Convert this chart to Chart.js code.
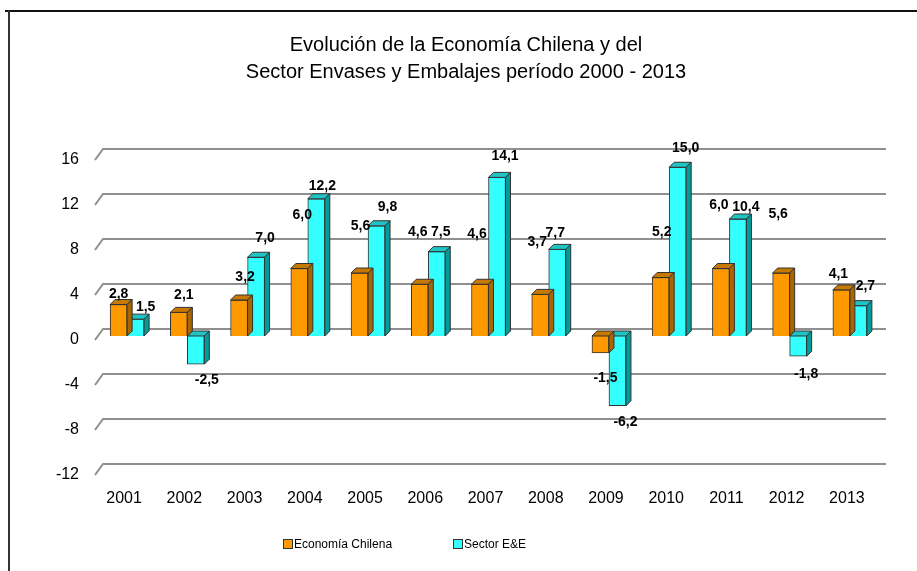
<!DOCTYPE html>
<html lang="es">
<head>
  <meta charset="UTF-8">
  <title>Evolución de la Economía Chilena y del Sector Envases y Embalajes</title>
  <script src="https://cdn.jsdelivr.net/npm/chart.js"></script>
  <style>
    html, body { margin: 0; padding: 0; background: #fff; }
    .wrap { position: relative; width: 917px; height: 571px; }
    .frame-top { position: absolute; left: 5px; top: 10px; width: 912px; height: 2px; background: #111; }
    .frame-left { position: absolute; left: 8px; top: 10px; width: 2px; height: 561px; background: #333; }
    .legend { position: absolute; top: 537px; font: 12px Arial, "Liberation Sans", sans-serif; color: #000; }
    .legend span.box { display: inline-block; width: 8px; height: 8px; border: 1px solid #333; vertical-align: -1px; margin-right: 1px; }
  </style>
</head>
<body>
  <div class="wrap">
    <canvas id="chart" width="917" height="571"></canvas>
    <div class="frame-top"></div>
    <div class="frame-left"></div>
    <div class="legend" style="left:283px"><span class="box" style="background:#FF9900"></span>Economía Chilena</div>
    <div class="legend" style="left:453px"><span class="box" style="background:#33FFFF"></span>Sector E&amp;E</div>
  </div>

  <script>
    const years = ['2001', '2002', '2003', '2004', '2005', '2006', '2007', '2008', '2009', '2010', '2011', '2012', '2013'];
    const economia = [2.8, 2.1, 3.2, 6.0, 5.6, 4.6, 4.6, 3.7, -1.5, 5.2, 6.0, 5.6, 4.1];
    const sectorEE = [1.5, -2.5, 7.0, 12.2, 9.8, 7.5, 14.1, 7.7, -6.2, 15.0, 10.4, -1.8, 2.7];
    const yTicks = [16, 12, 8, 4, 0, -4, -8, -12];

    const FONT = 'Arial, "Liberation Sans", sans-serif';
    const DEPTH = 5;
    const faces = [
      { top: '#C77800', side: '#A86500' },
      { top: '#1FC4C4', side: '#009C9C' }
    ];
    // where the data labels sit in the original, in px from the bar end
    const labelShift = [
      { dx: [0, 5, 6, 3, 1, -2, -3, -3, 5, 1, -2, -3, -3],
        dy: [10, 17, 23, 53, 47, 52, 50, 52, 25, 45, 63, 59, 16] },
      { dx: [10, 11, 9, 6, 11, 4, 8, -2, 8, 8, 8, 8, 7],
        dy: [12, 16, 19, 13, 19, 19, 21, 16, 16, 19, 12, 18, 19] }
    ];

    // back wall gridlines, drawn behind the bars
    const wallGrid = {
      id: 'wallGrid',
      beforeDatasetsDraw(chart) {
        const ctx = chart.ctx;
        const y = chart.scales.y;
        const area = chart.chartArea;
        ctx.save();
        ctx.strokeStyle = '#8f8f8f';
        ctx.lineWidth = 2;
        yTicks.forEach(function (v) {
          const py = y.getPixelForValue(v);
          ctx.beginPath();
          ctx.moveTo(area.left - 2, py + 4);
          ctx.lineTo(area.left + 6, py - 7);
          ctx.lineTo(area.right + 6, py - 7);
          ctx.stroke();
        });
        ctx.restore();
      }
    };

    // top and side faces of every bar
    const bars3d = {
      id: 'bars3d',
      afterDatasetDraw(chart, args) {
        const ctx = chart.ctx;
        const f = faces[args.index];
        const d = DEPTH;
        ctx.save();
        ctx.strokeStyle = '#333';
        ctx.lineWidth = 1;
        args.meta.data.forEach(function (bar) {
          const p = bar.getProps(['x', 'y', 'base', 'width'], true);
          const l = p.x - p.width / 2, r = p.x + p.width / 2;
          const t = Math.min(p.y, p.base), b = Math.max(p.y, p.base);
          ctx.fillStyle = f.top;
          ctx.beginPath();
          ctx.moveTo(l, t); ctx.lineTo(l + d, t - d); ctx.lineTo(r + d, t - d); ctx.lineTo(r, t);
          ctx.closePath(); ctx.fill(); ctx.stroke();
          ctx.fillStyle = f.side;
          ctx.beginPath();
          ctx.moveTo(r, t); ctx.lineTo(r + d, t - d); ctx.lineTo(r + d, b - d); ctx.lineTo(r, b);
          ctx.closePath(); ctx.fill(); ctx.stroke();
        });
        ctx.restore();
      }
    };

    // value labels with comma decimals
    const valueLabels = {
      id: 'valueLabels',
      afterDatasetsDraw(chart) {
        const ctx = chart.ctx;
        ctx.save();
        ctx.font = 'bold 14px ' + FONT;
        ctx.fillStyle = '#000';
        ctx.textAlign = 'center';
        ctx.textBaseline = 'middle';
        chart.data.datasets.forEach(function (ds, i) {
          const s = labelShift[i];
          chart.getDatasetMeta(i).data.forEach(function (bar, j) {
            const v = ds.data[j];
            const txt = v.toFixed(1).replace('.', ',');
            const py = v >= 0 ? bar.y - s.dy[j] : bar.y + s.dy[j];
            ctx.fillText(txt, bar.x + s.dx[j], py);
          });
        });
        ctx.restore();
      }
    };

    new Chart(document.getElementById('chart'), {
      type: 'bar',
      data: {
        labels: years,
        datasets: [{
          label: 'Economía Chilena',
          data: economia,
          backgroundColor: '#FF9900',
          borderColor: '#333',
          borderWidth: 1,
          barThickness: 17
        }, {
          label: 'Sector E&E',
          data: sectorEE,
          backgroundColor: '#33FFFF',
          borderColor: '#333',
          borderWidth: 1,
          barThickness: 17
        }]
      },
      options: {
        responsive: false,
        animation: false,
        layout: { padding: { left: 52, right: 37, top: 0, bottom: 0 } },
        plugins: {
          legend: { display: false },
          tooltip: { enabled: false },
          title: {
            display: true,
            text: ['Evolución de la Economía Chilena y del', 'Sector Envases y Embalajes período 2000 - 2013'],
            color: '#000',
            font: { family: FONT, size: 20, weight: 'normal', lineHeight: 1.35 },
            padding: { top: 31.5, bottom: 70.5 }
          }
        },
        scales: {
          x: {
            grid: { display: false, drawTicks: false },
            border: { display: false },
            ticks: { color: '#000', font: { family: FONT, size: 16 }, padding: 18, labelOffset: -3 },
            afterFit(s) { s.height = 100; }
          },
          y: {
            min: -12,
            max: 16,
            clip: false,
            afterBuildTicks(s) { s.ticks = yTicks.map(v => ({ value: v })); },
            grid: { display: false, drawTicks: false },
            border: { display: false },
            ticks: { color: '#000', font: { family: FONT, size: 16 }, padding: 18, labelOffset: 4 },
            afterFit(s) { s.width = 45; }
          }
        }
      },
      plugins: [wallGrid, bars3d, valueLabels]
    });
  </script>
</body>
</html>
